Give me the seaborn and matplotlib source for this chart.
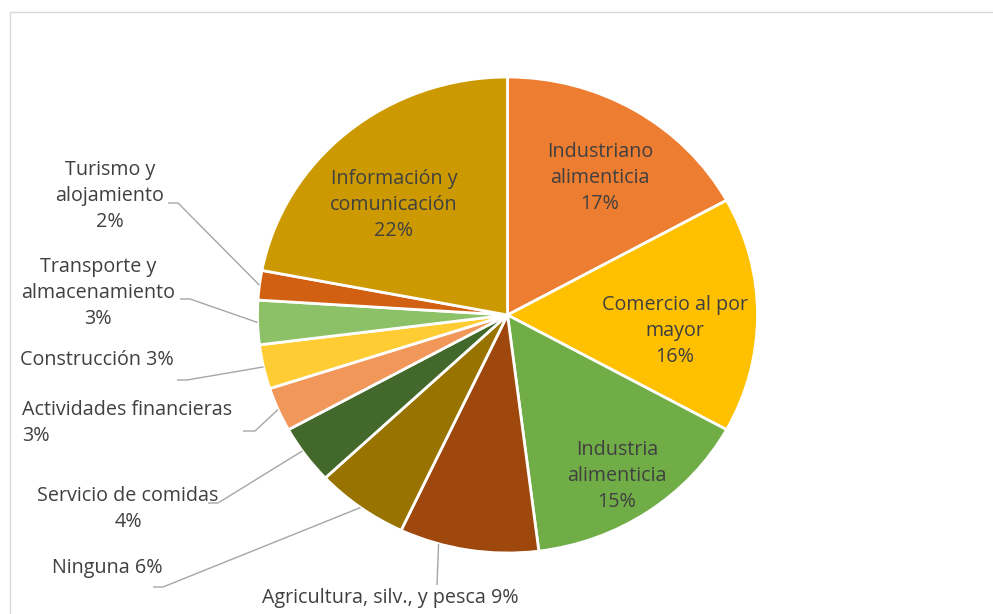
import matplotlib
matplotlib.use("Agg")
import matplotlib.pyplot as plt
import seaborn as sns
import numpy as np

# ---- data ----
categories = ["Industriano\nalimenticia", "Comercio al por\nmayor", "Industria\nalimenticia",
              "Agricultura, silv., y pesca", "Ninguna", "Servicio de comidas",
              "Actividades financieras", "Construcción", "Transporte y\nalmacenamiento",
              "Turismo y\nalojamiento", "Información y\ncomunicación"]
values = [17, 16, 15, 9, 6, 4, 3, 3, 3, 2, 22]
colors = ["#ED7D31", "#FFC000", "#70AD47", "#9E480E", "#997300", "#43682B",
          "#F1975A", "#FFCD33", "#8CC168", "#D26012", "#CC9A00"]

sns.set_theme(style="white")
plt.rcParams["font.family"] = ["Open Sans", "DejaVu Sans"]
TXT = "#404040"
FS = 14.2
LS = 1.42

fig = plt.figure(figsize=(9.93, 6.14), dpi=100)
ax = fig.add_axes([0, 0, 1, 1])

CX, CY, RX, RY = 507.5, 315.0, 250.0, 238.0
W, H = 993.0, 614.0

def px(x, y):
    return ((x - CX) / RX, (CY - y) / RY)

wedges, _ = ax.pie(values, colors=colors, startangle=90, counterclock=False,
                   radius=1, center=(0, 0), frame=False,
                   wedgeprops=dict(edgecolor="white", linewidth=2))
ax.set_aspect("auto")
ax.set_xlim(-CX / RX, (W - CX) / RX)
ax.set_ylim((CY - H) / RY, CY / RY)
ax.axis("off")

total = sum(values)
starts = 90 - 360 * np.cumsum([0] + values[:-1]) / total
ends = 90 - 360 * np.cumsum(values) / total

def label_text(i):
    return f"{categories[i]}\n{values[i]}%"

# inside labels (index: pixel center)
inside = {0: (600, 178), 1: (675, 331), 2: (617, 476), 10: (394, 205)}
for i, (x, y) in inside.items():
    ax.text(*px(x, y), label_text(i), ha="center", va="center", fontsize=FS,
            color=TXT, linespacing=LS)

# outside labels: index -> (text pos px, ha, text string, elbow px, fraction within wedge)
outside = {
    9: ((110, 196), "center", "Turismo y\nalojamiento\n2%", [(168, 203), (178, 203)], 0.5),
    8: ((98, 293), "center", "Transporte y\nalmacenamiento\n3%", [(180, 299), (190, 299)], 0.5),
    7: ((97, 360), "center", "Construcción 3%", [(177, 380), (187, 380)], 0.5),
    6: ((22, 423), "left", "Actividades financieras\n3%", [(243, 431), (255, 431)], 0.5),
    5: ((128, 509), "center", "Servicio de comidas\n4%", [(208, 503), (218, 503)], 0.58),
    4: ((107, 568), "center", "Ninguna 6%", [(153, 587), (163, 587)], 0.5),
    3: ((390, 598), "center", "Agricultura, silv., y pesca 9%", [(437, 585)], 0.716),
}
for i, (tpos, ha, s, elbow, frac) in outside.items():
    ax.text(*px(*tpos), s, ha=ha, va="center", fontsize=FS, color=TXT,
            linespacing=LS, multialignment=ha)
    ang = np.deg2rad(starts[i] + frac * (ends[i] - starts[i]))
    pts = [px(*p) for p in elbow] + [(np.cos(ang), np.sin(ang))]
    xs, ys = zip(*pts)
    ax.plot(xs, ys, color="#A6A6A6", lw=1, solid_capstyle="butt")

# chart border
fig.add_artist(plt.Line2D([10 / W, 10 / W], [0, 1 - 12 / H], transform=fig.transFigure,
                          color="#D9D9D9", lw=1))
fig.add_artist(plt.Line2D([10 / W, 1], [1 - 12 / H, 1 - 12 / H], transform=fig.transFigure,
                          color="#D9D9D9", lw=1))

fig.savefig("out.png", dpi=100, facecolor="white")
